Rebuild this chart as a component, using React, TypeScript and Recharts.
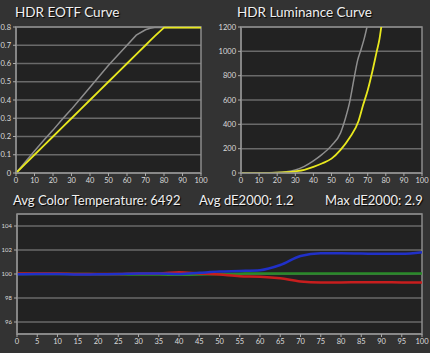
import { LineChart, Line, XAxis, YAxis, CartesianGrid, ReferenceArea } from 'recharts'

// EOTF curve (stimulus %, output)
const eotfStim = [0, 5, 10, 15, 20, 25, 30, 35, 40, 45, 50, 55, 60, 65, 70, 72.5, 75, 80, 85, 90, 95, 100]
const eotfTarget = [0, 0.06, 0.12, 0.18, 0.235, 0.295, 0.35, 0.41, 0.47, 0.53, 0.59, 0.645, 0.7, 0.755, 0.785, 0.793, 0.797, 0.797, 0.797, 0.797, 0.797, 0.797]
const eotfMeasured = [0, 0.05, 0.1, 0.15, 0.2, 0.25, 0.3, 0.35, 0.4, 0.45, 0.5, 0.55, 0.6, 0.65, 0.7, 0.725, 0.75, 0.797, 0.797, 0.797, 0.797, 0.797]

// luminance curve (cd/m2)
const lumTargetStim = [0, 10, 20, 25, 30, 35, 40, 45, 50, 55, 57.5, 60, 62.5, 64.5, 66, 68, 69.6]
const lumTarget = [0, 0.5, 4, 10, 25, 55, 100, 155, 225, 330, 440, 580, 780, 930, 1000, 1100, 1200]
const lumMeasStim = [0, 15, 20, 25, 30, 35, 40, 45, 50, 55, 60, 65, 67.5, 70, 72.5, 75, 76.5, 77.5]
const lumMeasured = [0, 0, 2, 6, 14, 26, 50, 80, 118, 190, 290, 430, 560, 680, 830, 1000, 1100, 1200]

// RGB balance
const rgbStim = [0, 5, 10, 15, 20, 25, 30, 35, 40, 45, 50, 55, 60, 65, 70, 75, 80, 85, 90, 95, 100]
const redVals = [100.05, 100.05, 100.05, 100, 100, 100, 100.05, 100.05, 100.15, 100.05, 99.95, 99.82, 99.78, 99.65, 99.38, 99.3, 99.3, 99.32, 99.32, 99.3, 99.3]
const greenVals = [100, 100, 100, 100, 99.98, 99.98, 99.95, 99.95, 99.93, 99.95, 100, 100.03, 100.05, 100.05, 100.05, 100.05, 100.05, 100.05, 100.05, 100.05, 100.05]
const blueVals = [99.98, 100, 100, 99.95, 99.98, 100, 100.05, 100.05, 100, 100.1, 100.2, 100.25, 100.32, 100.75, 101.5, 101.72, 101.72, 101.7, 101.68, 101.68, 101.82]

const tenTicks = [0, 10, 20, 30, 40, 50, 60, 70, 80, 90, 100]
const fiveTicks = [0, 5, 10, 15, 20, 25, 30, 35, 40, 45, 50, 55, 60, 65, 70, 75, 80, 85, 90, 95, 100]
const eotfTicks = [0, 0.1, 0.2, 0.3, 0.4, 0.5, 0.6, 0.7, 0.8]
const lumTicks = [0, 200, 400, 600, 800, 1000, 1200]
const rgbTicks = [96, 98, 100, 102, 104]

const eotfData = eotfStim.map((x, i) => ({ x, target: eotfTarget[i], measured: eotfMeasured[i] }))
const lumTargetData = lumTargetStim.map((x, i) => ({ x, y: lumTarget[i] }))
const lumMeasData = lumMeasStim.map((x, i) => ({ x, y: lumMeasured[i] }))
const rgbData = rgbStim.map((x, i) => ({ x, r: redVals[i], g: greenVals[i], b: blueVals[i] }))

const FONT = 'Lato, "Open Sans", sans-serif'
const tick = { fill: '#dcdcdc', fontSize: 7.5, fontFamily: FONT }
const axisLine = { stroke: '#8c8c8c', strokeWidth: 1.5 }
const tickLine = { stroke: '#aaa' }
const GRID = '#6a6a6a'
const PLOT_BG = '#222'
const BORDER = '#8c8c8c'
const YELLOW = '#e8e81e'
const GRAY = '#8e8e8e'

const label = {
  position: 'absolute' as const,
  color: '#f0f0f0',
  fontFamily: FONT,
  textShadow: '1px 1px 1px #000',
  whiteSpace: 'nowrap' as const,
}

export default function App() {
  return (
    <div style={{ position: 'absolute', left: 0, top: 0, width: 430, height: 353, background: '#333', overflow: 'hidden' }}>
      <div style={{ ...label, left: 15, top: 4, fontSize: 13.5 }}>HDR EOTF Curve</div>
      <div style={{ ...label, left: 237, top: 4, fontSize: 13.5 }}>HDR Luminance Curve</div>
      <div style={{ ...label, left: 13, top: 192, fontSize: 13 }}>Avg Color Temperature: 6492</div>
      <div style={{ ...label, left: 199, top: 192, fontSize: 13 }}>Avg dE2000: 1.2</div>
      <div style={{ ...label, left: 325, top: 192, fontSize: 13 }}>Max dE2000: 2.9</div>

      <div style={{ position: 'absolute', left: 0, top: 0 }}>
        <LineChart width={215} height={186} data={eotfData} margin={{ top: 27, right: 14, left: 0, bottom: 0 }}>
          <CartesianGrid vertical={false} stroke={GRID} strokeWidth={1.5} fill={PLOT_BG} />
          <XAxis dataKey="x" type="number" domain={[0, 100]} ticks={tenTicks} interval={0} tick={tick} tickSize={3} tickLine={tickLine} axisLine={axisLine} height={13} />
          <YAxis type="number" domain={[0, 0.8]} ticks={eotfTicks} interval={0} tick={tick} tickSize={3} tickLine={tickLine} axisLine={axisLine} width={16} />
          <ReferenceArea x1={0} x2={100} y1={0} y2={0.8} stroke={BORDER} strokeWidth={1.5} fill="none" />
          <Line dataKey="target" stroke={GRAY} strokeWidth={1.5} dot={false} isAnimationActive={false} />
          <Line dataKey="measured" stroke={YELLOW} strokeWidth={1.8} dot={false} isAnimationActive={false} />
        </LineChart>
      </div>

      <div style={{ position: 'absolute', left: 215, top: 0 }}>
        <LineChart width={215} height={186} margin={{ top: 27, right: 8, left: 0, bottom: 0 }}>
          <CartesianGrid vertical={false} stroke={GRID} strokeWidth={1.5} fill={PLOT_BG} />
          <XAxis dataKey="x" type="number" domain={[0, 100]} ticks={tenTicks} interval={0} tick={tick} tickSize={3} tickLine={tickLine} axisLine={axisLine} height={13} />
          <YAxis type="number" domain={[0, 1200]} ticks={lumTicks} interval={0} allowDataOverflow tick={tick} tickSize={3} tickLine={tickLine} axisLine={axisLine} width={26} />
          <ReferenceArea x1={0} x2={100} y1={0} y2={1200} stroke={BORDER} strokeWidth={1.5} fill="none" />
          <Line data={lumTargetData} dataKey="y" type="monotone" stroke={GRAY} strokeWidth={1.5} dot={false} isAnimationActive={false} />
          <Line data={lumMeasData} dataKey="y" type="monotone" stroke={YELLOW} strokeWidth={1.8} dot={false} isAnimationActive={false} />
        </LineChart>
      </div>

      <div style={{ position: 'absolute', left: 0, top: 200 }}>
        <LineChart width={430} height={153} data={rgbData} margin={{ top: 14, right: 8, left: 0, bottom: 6 }}>
          <CartesianGrid vertical={false} stroke={GRID} strokeWidth={1.5} fill={PLOT_BG} />
          <XAxis dataKey="x" type="number" domain={[0, 100]} ticks={fiveTicks} interval={0} tick={tick} tickSize={3} tickLine={tickLine} axisLine={axisLine} height={13} />
          <YAxis type="number" domain={[95, 105]} ticks={rgbTicks} interval={0} tick={{ ...tick, fontSize: 6 }} tickSize={3} tickLine={tickLine} axisLine={axisLine} width={17} />
          <ReferenceArea x1={0} x2={100} y1={95} y2={105} stroke={BORDER} strokeWidth={1.5} fill="none" />
          <Line dataKey="g" type="monotone" stroke="#2a8a2a" strokeWidth={2.5} dot={false} isAnimationActive={false} />
          <Line dataKey="r" type="monotone" stroke="#c81e1e" strokeWidth={2.5} dot={false} isAnimationActive={false} />
          <Line dataKey="b" type="monotone" stroke="#2030c8" strokeWidth={2.5} dot={false} isAnimationActive={false} />
        </LineChart>
      </div>
    </div>
  )
}
